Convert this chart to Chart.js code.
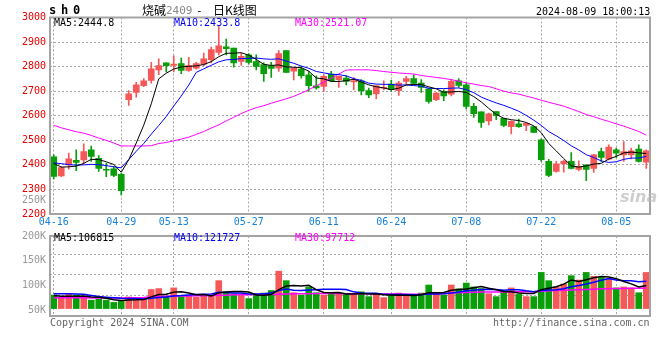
<!DOCTYPE html>
<html><head><meta charset="utf-8">
<script src="https://cdn.jsdelivr.net/npm/chart.js@4.4.1/dist/chart.umd.min.js"></script>
<style>
html,body{margin:0;padding:0;background:#fff;}
#wrap{position:relative;width:660px;height:360px;overflow:hidden;background:#fff;}
canvas{position:absolute;left:0;}
.t{position:absolute;white-space:pre;font-family:"DejaVu Sans Mono",monospace;font-size:10px;line-height:12px;}
.cjk{position:absolute;white-space:pre;font-family:"Noto Sans CJK SC",sans-serif;font-size:12px;line-height:14px;color:#000;}
</style></head><body>
<div id="wrap">
<canvas id="pc" width="660" height="232" style="top:0"></canvas>
<canvas id="vc" width="660" height="100" style="top:226px"></canvas>
<div class="t" style="left:49px;top:4px;font-weight:bold;font-size:12px;letter-spacing:4.8px;color:#000;">sh0</div>
<div class="cjk" style="left:142px;top:3px;">烧碱</div>
<div class="t" style="left:166px;top:5px;font-size:11px;color:#888;">2409</div>
<div class="t" style="left:196px;top:5px;font-size:11px;color:#000;">-</div>
<div class="cjk" style="left:213px;top:3px;">日K线图</div>
<div class="t" style="left:536px;top:6px;color:#000;">2024-08-09 18:00:13</div>
<div class="t" style="left:54px;top:17px;color:#000;">MA5:2444.8</div>
<div class="t" style="left:174px;top:17px;color:#0000ee;">MA10:2433.8</div>
<div class="t" style="left:295px;top:17px;color:#ff00ff;">MA30:2521.07</div>
<div class="t" style="left:22px;top:194px;color:#999;">250K</div>
<div class="t" style="left:54px;top:232px;color:#000;">MA5:106815</div>
<div class="t" style="left:174px;top:232px;color:#0000ee;">MA10:121727</div>
<div class="t" style="left:295px;top:232px;color:#ff00ff;">MA30:97712</div>
<div class="t" style="left:50px;top:317px;color:#666;">Copyright 2024 SINA.COM</div>
<div class="t" style="left:493px;top:317px;color:#666;">http://finance.sina.com.cn</div>
<div class="t" style="left:620px;top:188px;font-family:'DejaVu Sans',sans-serif;font-size:16px;line-height:18px;font-weight:bold;font-style:italic;color:rgba(185,185,185,0.7);">sina</div>
</div>
<script>
const dates = ['04-16','04-17','04-18','04-19','04-22','04-23','04-24','04-25','04-26','04-29','04-30',
'05-06','05-07','05-08','05-09','05-10','05-13','05-14','05-15','05-16','05-17','05-20','05-21','05-22','05-23','05-24','05-27','05-28','05-29','05-30','05-31',
'06-03','06-04','06-05','06-06','06-07','06-11','06-12','06-13','06-14','06-17','06-18','06-19','06-20','06-21','06-24','06-25','06-26','06-27','06-28',
'07-01','07-02','07-03','07-04','07-05','07-08','07-09','07-10','07-11','07-12','07-15','07-16','07-17','07-18','07-19','07-22','07-23','07-24','07-25','07-26','07-29','07-30','07-31',
'08-01','08-02','08-05','08-06','08-07','08-08','08-09'];
const tickDates = ['04-16','04-29','05-13','05-27','06-11','06-24','07-08','07-22','08-05'];

const opens  = [2433,2355,2400,2418,2420,2461,2427,2382,2384,2362,
2665,2695,2722,2744,2787,2815,2805,2812,2785,2794,
2810,2828,2858,2881,2876,2821,2848,2821,2808,2804,
2794,2865,2781,2790,2767,2722,2719,2770,2747,2753,
2738,2742,2702,2689,2712,2729,2702,2740,2751,2733,
2710,2665,2699,2688,2742,2726,2638,2616,2579,2617,
2590,2556,2567,2561,2556,2502,2414,2373,2404,2414,
2382,2400,2386,2454,2423,2461,2441,2441,2464,2411];
const highs  = [2441,2393,2448,2461,2486,2477,2438,2406,2393,2366,
2702,2736,2751,2817,2832,2815,2844,2835,2838,2817,
2855,2880,2966,2912,2876,2855,2853,2848,2815,2817,
2865,2865,2795,2801,2781,2763,2767,2781,2763,2763,
2755,2747,2713,2722,2742,2744,2740,2760,2767,2747,
2713,2695,2706,2747,2751,2733,2651,2616,2611,2617,
2590,2579,2586,2569,2557,2506,2423,2414,2420,2450,
2416,2400,2443,2468,2482,2468,2495,2468,2482,2461];
const lows   = [2343,2352,2383,2376,2407,2414,2373,2352,2352,2278,
2642,2676,2718,2733,2767,2778,2778,2771,2780,2790,
2804,2815,2848,2848,2798,2805,2810,2787,2740,2756,
2780,2776,2746,2753,2699,2708,2699,2740,2715,2726,
2705,2685,2674,2669,2705,2699,2683,2726,2729,2695,
2651,2661,2661,2681,2715,2628,2593,2552,2563,2584,
2556,2526,2552,2539,2531,2414,2352,2370,2370,2384,
2375,2336,2369,2414,2420,2430,2414,2424,2411,2386];
const closes = [2353,2389,2425,2410,2454,2434,2386,2378,2357,2295,
2689,2726,2742,2791,2804,2804,2810,2785,2804,2812,
2832,2869,2885,2873,2815,2842,2817,2801,2771,2793,
2853,2776,2794,2763,2722,2713,2760,2742,2760,2740,
2742,2702,2685,2722,2715,2706,2733,2751,2732,2715,
2658,2692,2681,2740,2723,2638,2608,2573,2608,2600,
2561,2577,2556,2569,2532,2421,2357,2404,2414,2386,
2393,2382,2441,2430,2472,2448,2454,2457,2414,2457];

const priceMA5Lead  = [2406,2391,2392,2395];
const priceMA10Lead = [2408,2405,2401,2399,2400,2402,2401,2397,2392];
const priceMA30 = [2561,2551,2543,2535,2529,2520,2509,2500,2489,2477,
2477,2477,2477,2478,2487,2491,2498,2505,2513,2524,
2536,2550,2563,2579,2594,2609,2622,2633,2641,2651,
2660,2669,2679,2692,2706,2722,2737,2753,2770,2786,
2787,2787,2787,2784,2780,2777,2774,2772,2770,2764,
2760,2756,2752,2747,2741,2734,2729,2723,2719,2710,
2700,2693,2688,2680,2672,2663,2655,2647,2639,2628,
2617,2605,2596,2586,2577,2567,2558,2547,2536,2521];

const volumes = [73400,62100,75700,73400,66700,55400,58800,55400,47500,53100,
66700,61000,61000,92600,96000,70000,98300,67800,71200,65500,
74500,70000,123700,84700,78000,71200,61000,73400,80200,89300,
157000,123700,81400,73400,101700,81400,73400,75700,78000,78000,
78000,84700,67800,75700,64400,73400,80200,70000,70000,80200,
108500,80200,73400,108500,95000,115300,101700,96000,78000,67800,
84700,98300,75700,67800,67800,152500,123700,101700,111900,141200,
125900,152500,138900,134400,129900,98300,101700,98300,81400,152500];
const volMA5Lead  = [72000,69000,69000,69000];
const volMA10Lead = [78000,78000,78000,77000,76000,72000,68000,66000,64000];
const volMA30 = [64000,64000,64000,64000,64000,63000,63000,63000,63000,63000,
63000,64000,65000,67000,68000,69000,70000,70000,70000,71000,
71000,72000,73000,73000,74000,74000,74000,75000,75000,75000,
76000,77000,78000,78000,78000,79000,79000,79000,79000,78000,
78000,78000,78000,77000,77000,77000,77000,76000,76000,76000,
77000,78000,79000,80000,81000,82000,83000,84000,84000,84000,
84000,85000,85000,85000,85000,87000,88000,89000,90000,91000,
92000,93000,94000,95000,95000,96000,96000,97000,97000,97712];

const volTickLabels = [50000,100000,150000,200000];
const volGridValues = [72000,144000,216000];

function movingAvg(vals, n, lead){
  return vals.map((v,i)=>{
    if(i < n-1) return lead[i];
    let s=0; for(let k=i-n+1;k<=i;k++) s+=vals[k];
    return s/n;
  });
}

const RED='#f45858', GREEN='#0a9e0a', GRID='#a8a8a8';
const candleColors = closes.map((c,i)=> c>=opens[i] ? RED : GREEN);
const tickIdx = new Set(tickDates.map(d=>dates.indexOf(d)));
const gridX = ctx => tickIdx.has(ctx.index) ? GRID : 'rgba(0,0,0,0)';
const FONT = {family:'DejaVu Sans Mono', size:10};

const framePlugin = {id:'frame', afterDraw(chart){
  const {ctx, chartArea:a} = chart;
  ctx.save(); ctx.strokeStyle='#a4a4a4'; ctx.lineWidth=2;
  ctx.strokeRect(a.left, a.top, a.right-a.left, a.bottom-a.top);
  ctx.restore();
}};

const lineDs = (data, color, w, axis) => ({type:'line', data, borderColor:color, borderWidth:w,
  pointRadius:0, tension:0, fill:false, order:1, yAxisID:axis});

new Chart(document.getElementById('pc'), {
  type:'bar',
  data:{ labels:dates, datasets:[
    {data: lows.map((l,i)=>[l, highs[i]]), backgroundColor:candleColors, barThickness:1, grouped:false, order:3, yAxisID:'y'},
    {data: opens.map((o,i)=>[o, closes[i]]), backgroundColor:candleColors, barThickness:6, grouped:false, minBarLength:1, order:2, yAxisID:'y'},
    lineDs(movingAvg(closes,5,priceMA5Lead), '#000000', 1, 'y'),
    lineDs(movingAvg(closes,10,priceMA10Lead), '#0000ff', 1, 'y'),
    lineDs(priceMA30, '#ff00ff', 1, 'y')
  ]},
  options:{
    responsive:false, animation:false, devicePixelRatio:1, events:[],
    layout:{padding:{left:0,right:10,top:17.5,bottom:0}},
    plugins:{legend:{display:false}, tooltip:{enabled:false}},
    scales:{
      x:{type:'category', offset:true,
        grid:{offset:false, drawTicks:false, color:gridX, lineWidth:1},
        border:{display:false, dash:[2,2]},
        ticks:{autoSkip:false, maxRotation:0, minRotation:0, padding:2, color:'#1580d8', font:FONT,
          callback:function(v){ const l=this.getLabelForValue(v); return tickDates.includes(l)?l:''; }},
        afterFit:s=>{s.height=18;}},
      y:{min:2200, max:3000,
        ticks:{stepSize:100, color:'#e60000', font:FONT, padding:4, callback:v=>String(v)},
        grid:{drawTicks:false, color:GRID},
        border:{display:false, dash:[2,2]},
        afterFit:s=>{s.width=50;}}
    }
  },
  plugins:[framePlugin]
});

new Chart(document.getElementById('vc'), {
  type:'bar',
  data:{ labels:dates, datasets:[
    {data: volumes, backgroundColor:candleColors, barThickness:6, base:26000, order:2, yAxisID:'y'},
    lineDs(movingAvg(volumes,5,volMA5Lead), '#000000', 1.5, 'y'),
    lineDs(movingAvg(volumes,10,volMA10Lead), '#0000ff', 1.5, 'y'),
    lineDs(volMA30, '#ff00ff', 1.5, 'y')
  ]},
  options:{
    responsive:false, animation:false, devicePixelRatio:1, events:[],
    layout:{padding:{left:0,right:10,top:9.7,bottom:7.7}},
    plugins:{legend:{display:false}, tooltip:{enabled:false}},
    scales:{
      x:{type:'category', offset:true,
        grid:{offset:false, drawTicks:false, color:gridX},
        border:{display:false, dash:[2,2]},
        ticks:{display:false},
        afterFit:s=>{s.height=0;}},
      y:{position:'right', min:0, max:280000,
        ticks:{display:false},
        afterBuildTicks:s=>{ s.ticks = volGridValues.map(v=>({value:v})); },
        grid:{drawTicks:false, color:GRID},
        border:{display:false, dash:[2,2]},
        afterFit:s=>{s.width=0;}},
      yl:{position:'left', min:38900, max:200000,
        afterBuildTicks:s=>{ s.ticks = volTickLabels.map(v=>({value:v})); },
        ticks:{color:'#999', font:FONT, padding:4, callback:v=>(v/1000)+'K'},
        grid:{display:false, drawTicks:false},
        border:{display:false},
        afterFit:s=>{s.width=50;}}
    }
  },
  plugins:[framePlugin]
});
</script>
</body></html>
